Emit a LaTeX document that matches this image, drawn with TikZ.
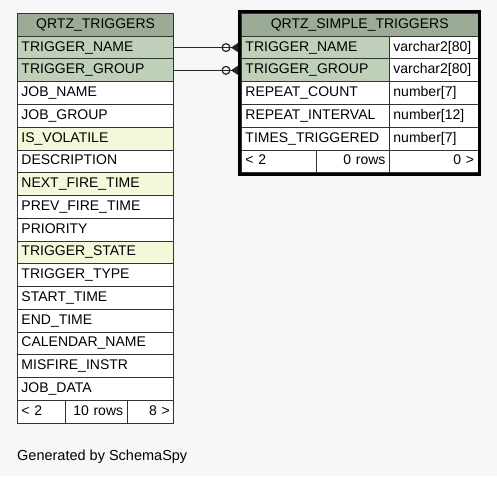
\documentclass[tikz,border=0pt]{standalone}
\usepackage{fontspec}
\setmainfont{Liberation Sans}
\usetikzlibrary{arrows.meta}

\begin{document}
\begin{tikzpicture}[x=1pt, y=-1pt,
  zelle/.style={draw=black!80, line width=0.9pt, anchor=north west,
    minimum height=22.75pt, inner xsep=4pt, inner ysep=0pt,
    text height=10pt, text depth=3pt, font=\fontsize{14}{16}\selectfont},
  links/.style={zelle, text width=148.3pt, align=left},
  fk/.style={draw=black!85, line width=1pt, shorten >=3pt,
    -{Circle[open, length=9pt, width=9pt, line width=1.2pt, sep=0.5pt] Triangle[reversed, length=7pt, width=9pt]}}]

  % --- Farben ---
  \definecolor{bg}{HTML}{F7F7F7}  % Hintergrund
  \definecolor{kopf}{HTML}{9BAB96} % Tabellenkopf
  \definecolor{pk}{HTML}{BED1B8}   % Primaerschluessel
  \definecolor{idx}{HTML}{F4F7DA}  % indizierte Spalte

  % --- Rahmen ---
  \useasboundingbox (0,0) rectangle (497,476);
  \fill[bg] (0,0) rectangle (497,476);

  % --- Tabelle QRTZ_TRIGGERS (Zeilenhoehe 22.75) ---
  \node[zelle, fill=kopf, text width=148.3pt, align=center] (ltKopf) at (17, 13.00) {QRTZ\_TRIGGERS};
  \node[links, fill=pk]    (lt1)  at (17, 35.75) {TRIGGER\_NAME};
  \node[links, fill=pk]    (lt2)  at (17, 58.50) {TRIGGER\_GROUP};
  \node[links, fill=white] (lt3)  at (17, 81.25) {JOB\_NAME};
  \node[links, fill=white] (lt4)  at (17,104.00) {JOB\_GROUP};
  \node[links, fill=idx]   (lt5)  at (17,126.75) {IS\_VOLATILE};
  \node[links, fill=white] (lt6)  at (17,149.50) {DESCRIPTION};
  \node[links, fill=idx]   (lt7)  at (17,172.25) {NEXT\_FIRE\_TIME};
  \node[links, fill=white] (lt8)  at (17,195.00) {PREV\_FIRE\_TIME};
  \node[links, fill=white] (lt9)  at (17,217.75) {PRIORITY};
  \node[links, fill=idx]   (lt10) at (17,240.50) {TRIGGER\_STATE};
  \node[links, fill=white] (lt11) at (17,263.25) {TRIGGER\_TYPE};
  \node[links, fill=white] (lt12) at (17,286.00) {START\_TIME};
  \node[links, fill=white] (lt13) at (17,308.75) {END\_TIME};
  \node[links, fill=white] (lt14) at (17,331.50) {CALENDAR\_NAME};
  \node[links, fill=white] (lt15) at (17,354.25) {MISFIRE\_INSTR};
  \node[links, fill=white] (lt16) at (17,377.00) {JOB\_DATA};
  % Fusszeile
  \node[zelle, fill=white, text width=40pt,   align=left]  (ltF1) at ( 17.0,399.75) {< 2};
  \node[zelle, fill=white, text width=53.7pt, align=right] (ltF2) at ( 65.0,399.75) {10 rows};
  \node[zelle, fill=white, text width=38.6pt, align=right] (ltF3) at (126.7,399.75) {8 >};

  % --- Tabelle QRTZ_SIMPLE_TRIGGERS ---
  \node[zelle, fill=kopf, text width=228.5pt, align=center] (rtKopf) at (241, 13.00) {QRTZ\_SIMPLE\_TRIGGERS};
  % Spalte Name
  \node[zelle, fill=pk,    text width=140pt, align=left] (rt1) at (241, 35.75) {TRIGGER\_NAME};
  \node[zelle, fill=pk,    text width=140pt, align=left] (rt2) at (241, 58.50) {TRIGGER\_GROUP};
  \node[zelle, fill=white, text width=140pt, align=left] (rt3) at (241, 81.25) {REPEAT\_COUNT};
  \node[zelle, fill=white, text width=140pt, align=left] (rt4) at (241,104.00) {REPEAT\_INTERVAL};
  \node[zelle, fill=white, text width=140pt, align=left] (rt5) at (241,126.75) {TIMES\_TRIGGERED};
  % Spalte Typ
  \node[zelle, fill=white, text width=80.5pt, align=left] (rtT1) at (389, 35.75) {varchar2[80]};
  \node[zelle, fill=white, text width=80.5pt, align=left] (rtT2) at (389, 58.50) {varchar2[80]};
  \node[zelle, fill=white, text width=80.5pt, align=left] (rtT3) at (389, 81.25) {number[7]};
  \node[zelle, fill=white, text width=80.5pt, align=left] (rtT4) at (389,104.00) {number[12]};
  \node[zelle, fill=white, text width=80.5pt, align=left] (rtT5) at (389,126.75) {number[7]};
  % Fusszeile
  \node[zelle, fill=white, text width=66.7pt, align=left]  (rtF1) at (241.0,149.50) {< 2};
  \node[zelle, fill=white, text width=65.3pt, align=right] (rtF2) at (315.7,149.50) {0 rows};
  \node[zelle, fill=white, text width=80.5pt, align=right] (rtF3) at (389.0,149.50) {0 >};
  % dicker Rand
  \draw[line width=3pt, black] ([xshift=-1.5pt, yshift=1.5pt]rtKopf.north west)
    rectangle ([xshift=1.5pt, yshift=-1.5pt]rtF3.south east);

  % --- Fremdschluessel ---
  \draw[fk] (lt1.east) -- (rt1.west);
  \draw[fk] (lt2.east) -- (rt2.west);

  % --- Fussnote ---
  \node[anchor=base west, inner sep=0pt, font=\fontsize{14.5}{16}\selectfont] (gen) at (17,460.5) {Generated by SchemaSpy};

\end{tikzpicture}
\end{document}
